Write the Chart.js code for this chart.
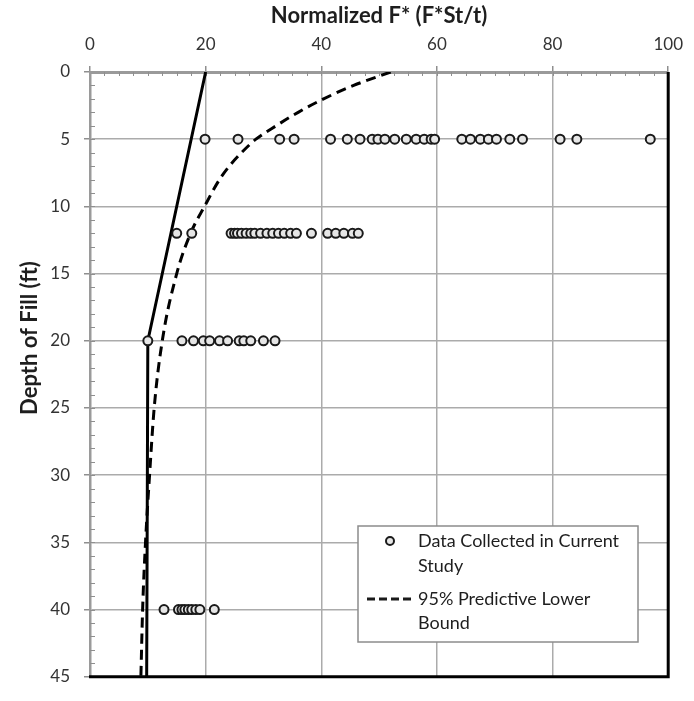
<!DOCTYPE html>
<html>
<head>
<meta charset="utf-8">
<script src="https://cdn.jsdelivr.net/npm/chart.js@4.4.1/dist/chart.umd.min.js"></script>
<style>
  html, body { margin: 0; padding: 0; background: #fff; }
  #wrap { width: 694px; height: 701px; position: relative; }
</style>
</head>
<body>
<div id="wrap"><canvas id="myChart" width="694" height="701"></canvas></div>
<script>
// depths (ft) at which data were collected, and the normalized F* values read at each
let depths = [5, 12, 20, 40];
let valuesAt5 = [19.9, 25.6, 32.8, 35.3, 41.6, 44.5, 46.7, 48.8, 49.8, 51, 52.7, 54.7, 56.4, 57.8, 59, 59.6,
                 64.3, 65.8, 67.5, 68.9, 70.3, 72.6, 74.8, 81.3, 84.2, 96.9];
let valuesAt12 = [15, 17.6, 24.4, 25, 25.5, 26.2, 27, 27.8, 28.5, 29.5, 30.6, 31.6, 32.6, 33.6, 34.7, 35.7,
                  38.3, 41.1, 42.5, 43.9, 45.4, 46.4];
let valuesAt20 = [10, 15.9, 17.9, 19.6, 20.7, 22.4, 23.8, 25.8, 26.6, 27.8, 30, 32];
let valuesAt40 = [12.8, 15.3, 15.9, 16.4, 17, 17.6, 18.3, 19, 21.5];

// solid design line
let solidDepths = [0, 20, 45];
let solidValues = [20, 10, 9.8];

// 95% predictive lower bound (dashed)
let boundDepths = [0, 1, 2, 3, 4, 5, 6, 7, 8, 10, 12, 15, 20, 25, 30, 35, 40, 45];
let boundValues = [52, 45.6, 40.4, 36, 32.2, 28.7, 26.2, 24.1, 22.4, 19.8, 17.4, 15, 12.5, 11.1, 10.3, 9.6, 9.1, 8.8];

let xTicks = [0, 20, 40, 60, 80, 100];
let yTicks = [0, 5, 10, 15, 20, 25, 30, 35, 40, 45];

let xTitle = 'Normalized F* (F*St/t)';
let yTitle = 'Depth of Fill (ft)';
let legendItems = [
  ['Data Collected in Current', 'Study'],
  ['95% Predictive Lower', 'Bound']
];

function buildPoints(){
  let allValues = [valuesAt5, valuesAt12, valuesAt20, valuesAt40];
  let pts = [];
  for(let i=0;i<depths.length;i++){
    for(let v of allValues[i]){
      pts.push({x: v, y: depths[i]});
    }
  }
  return pts;
}

function buildLine(ds, vs){
  let pts = [];
  for(let i=0;i<ds.length;i++){
    pts.push({x: vs[i], y: ds[i]});
  }
  return pts;
}

const FONT = 'Lato, "Open Sans", sans-serif';

// minor ticks, black right/bottom border, y title and the boxed legend
const extras = {
  id: 'extras',
  beforeDatasetsDraw(chart){
    const ctx = chart.ctx;
    const xs = chart.scales.x, ys = chart.scales.y;
    const ca = chart.chartArea;
    ctx.save();
    ctx.strokeStyle = '#8f8f8f';
    ctx.lineWidth = 1;
    ctx.beginPath();
    for(let v=2.5; v<100; v+=2.5){
      const px = Math.round(xs.getPixelForValue(v)) + 0.5;
      ctx.moveTo(px, ca.top);
      ctx.lineTo(px, ca.top + 4);
    }
    for(let v=1; v<45; v+=1){
      const py = Math.round(ys.getPixelForValue(v)) + 0.5;
      ctx.moveTo(ca.left, py);
      ctx.lineTo(ca.left + 5, py);
    }
    ctx.stroke();
    ctx.restore();
  },
  afterDraw(chart){
    const ctx = chart.ctx;
    const ca = chart.chartArea;
    ctx.save();
    // black plot border on right and bottom
    ctx.strokeStyle = '#000';
    ctx.lineWidth = 3;
    ctx.beginPath();
    ctx.moveTo(ca.left - 1, ca.bottom);
    ctx.lineTo(ca.right, ca.bottom);
    ctx.lineTo(ca.right, ca.top);
    ctx.stroke();

    // y axis title, sits a bit above the middle like the original
    ctx.save();
    ctx.translate(30, 338);
    ctx.rotate(-Math.PI/2);
    ctx.font = 'bold 22px ' + FONT;
    ctx.fillStyle = '#1e1e1e';
    ctx.textAlign = 'center';
    ctx.textBaseline = 'middle';
    ctx.fillText(yTitle, 0, 0);
    ctx.restore();

    // legend
    const bx = 358, by = 526, bw = 280, bh = 116;
    ctx.fillStyle = '#fff';
    ctx.fillRect(bx, by, bw, bh);
    ctx.strokeStyle = '#8c8c8c';
    ctx.lineWidth = 1.5;
    ctx.strokeRect(bx, by, bw, bh);

    ctx.font = '18px ' + FONT;
    ctx.fillStyle = '#1e1e1e';
    ctx.textBaseline = 'middle';
    ctx.textAlign = 'left';
    const tx = 418;
    const lines = [541, 566, 599, 623];
    ctx.fillText(legendItems[0][0], tx, lines[0]);
    ctx.fillText(legendItems[0][1], tx, lines[1]);
    ctx.fillText(legendItems[1][0], tx, lines[2]);
    ctx.fillText(legendItems[1][1], tx, lines[3]);

    // circle marker
    ctx.beginPath();
    ctx.arc(390, lines[0], 4, 0, Math.PI*2);
    ctx.fillStyle = '#e6e6e6';
    ctx.fill();
    ctx.lineWidth = 2;
    ctx.strokeStyle = '#1a1a1a';
    ctx.stroke();

    // dashed marker
    ctx.beginPath();
    ctx.setLineDash([8, 4]);
    ctx.lineWidth = 3;
    ctx.moveTo(367, lines[2]);
    ctx.lineTo(411, lines[2]);
    ctx.stroke();
    ctx.setLineDash([]);
    ctx.restore();
  }
};

function Place(){
  const ctx = document.getElementById('myChart');

  new Chart(ctx, {
    type: 'scatter',
    data: {
      datasets: [
        {
          label: 'Data Collected in Current Study',
          data: buildPoints(),
          pointStyle: 'circle',
          pointRadius: 4.5,
          pointBorderWidth: 2,
          pointBorderColor: '#1a1a1a',
          pointBackgroundColor: '#e6e6e6',
          showLine: false
        },
        {
          label: 'Design line',
          data: buildLine(solidDepths, solidValues),
          showLine: true,
          borderColor: '#000',
          borderWidth: 3,
          pointRadius: 0,
          tension: 0
        },
        {
          label: '95% Predictive Lower Bound',
          data: buildLine(boundDepths, boundValues),
          showLine: true,
          borderColor: '#000',
          borderWidth: 3,
          borderDash: [10, 6],
          pointRadius: 0,
          cubicInterpolationMode: 'monotone'
        }
      ]
    },
    options: {
      responsive: false,
      animation: false,
      layout: { padding: { left: 0, top: 0, right: 16, bottom: 10 } },
      plugins: {
        legend: { display: false },
        tooltip: { enabled: false }
      },
      scales: {
        x: {
          type: 'linear',
          position: 'top',
          min: 0,
          max: 100,
          afterFit(scale){ scale.height = 72; },
          afterBuildTicks(scale){ scale.ticks = xTicks.map(v => ({value: v})); },
          ticks: {
            padding: 11,
            color: '#333',
            font: { family: FONT, size: 17 }
          },
          grid: {
            color: '#ababab',
            lineWidth: 1.5,
            tickLength: 6,
            tickColor: '#8f8f8f'
          },
          border: { color: '#9a9a9a', width: 3 },
          title: {
            display: true,
            text: xTitle,
            color: '#1e1e1e',
            font: { family: FONT, size: 22, weight: 'bold' },
            padding: { top: 3, bottom: 0 }
          }
        },
        y: {
          type: 'linear',
          reverse: true,
          min: 0,
          max: 45,
          afterFit(scale){ scale.width = 90; },
          afterBuildTicks(scale){ scale.ticks = yTicks.map(v => ({value: v})); },
          ticks: {
            padding: 14,
            color: '#333',
            font: { family: FONT, size: 17 }
          },
          grid: {
            color: '#ababab',
            lineWidth: 1.5,
            tickLength: 6,
            tickColor: '#8f8f8f'
          },
          border: { color: '#9a9a9a', width: 2.5 },
          title: { display: false }
        }
      }
    },
    plugins: [extras]
  });
}

Place();
</script>
</body>
</html>
